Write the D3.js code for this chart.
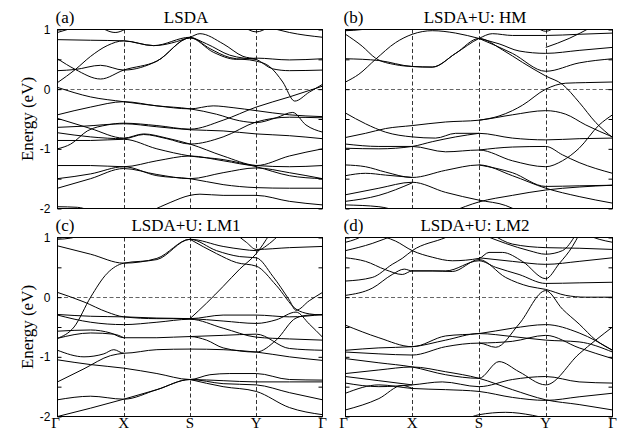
<!DOCTYPE html>
<html>
<head>
<meta charset="utf-8">
<script src="https://cdn.jsdelivr.net/npm/d3@7"></script>
<style>
  body { margin: 0; background: #fff; }
  svg { display: block; }
  .band { fill: none; stroke: #000; stroke-width: 1; }
</style>
</head>
<body>
<script>
/*
	Band structure, four panels
	---------------------------
	Each band is a list of [k, E] nodes, k runs 0..4 along G-X-S-Y-G.
*/
var width = 621;
var height = 437;

var kLabels = ["\u0393", "X", "S", "Y", "\u0393"];
var kPos = [0, 1, 2, 3, 4];
var eTicks = [1, 0.5, 0, -0.5, -1, -1.5, -2];
var eLabels = [1, 0, -1, -2];
var panelLetters = ["(a)", "(b)", "(c)", "(d)"];
var panelTitles = ["LSDA", "LSDA+U: HM", "LSDA+U: LM1", "LSDA+U: LM2"];

var bandsA = [
	[[0,0.95],[0.15,1.0],[0.3,1.06]],
	[[0.62,1.06],[0.87,0.95],[1.1,1.06]],
	[[0,0.83],[0.5,0.82],[1,0.81],[1.45,0.73],[2,0.87],[2.15,0.93],[2.5,0.76],[2.8,0.55],[3,0.5],[3.25,0.34],[3.5,0.31],[4,0.32]],
	[[0,0.11],[0.27,0.33],[0.5,0.55],[0.75,0.73],[1,0.81],[1.45,0.73],[2,0.87],[2.3,0.68],[2.6,0.53],[3,0.47],[3.2,0.38],[3.4,0.12],[3.58,-0.2],[3.8,-0.05],[4,0.08]],
	[[0,0.51],[0.27,0.33],[0.65,0.17],[1,0.32],[1.5,0.47],[2,0.86],[2.35,0.62],[2.7,0.5],[3,0.52],[3.5,0.49],[4,0.51]],
	[[0,0.31],[0.27,0.33],[0.65,0.4],[1,0.32],[1.5,0.47],[2,0.86],[2.25,0.76],[2.6,0.57],[3,0.5]],
	[[2.8,1.05],[3,0.96],[3.2,1.05]],
	[[3.15,1.05],[3.5,0.95],[4,0.87]],
	[[0,0.03],[0.5,-0.13],[1,-0.21],[1.5,-0.28],[2,-0.33],[2.35,-0.28],[2.65,-0.31],[3,-0.36],[3.5,-0.43],[4,-0.46]],
	[[0,-0.43],[0.5,-0.3],[1,-0.21],[1.5,-0.28],[2,-0.33],[2.4,-0.42],[2.75,-0.53],[3,-0.56],[3.3,-0.48],[3.55,-0.39],[3.75,-0.6],[4,-0.72]],
	[[0,-0.49],[0.5,-0.66],[1,-0.82],[1.3,-0.75],[1.65,-0.82],[2,-0.92],[2.5,-1.12],[3,-1.28],[3.5,-1.3],[4,-1.28]],
	[[0,-1.0],[0.2,-0.92],[0.45,-0.7],[0.75,-0.6],[1,-0.57],[1.5,-0.61],[2,-0.67],[2.5,-0.52],[3,-0.3],[3.5,-0.13],[4,0.05]],
	[[0,-0.64],[0.4,-0.62],[1,-0.58],[1.5,-0.63],[2,-0.68],[2.5,-0.7],[3,-0.75],[3.5,-0.78],[4,-0.83]],
	[[0,-0.73],[0.5,-0.8],[1,-0.83],[1.3,-0.76],[1.65,-0.83],[2,-0.92],[2.5,-0.8],[3,-0.55],[3.5,-0.47],[4,-0.48]],
	[[0,-0.86],[0.5,-0.86],[1,-0.84],[1.5,-1.0],[2,-1.12],[2.5,-1.18],[3,-1.3],[3.5,-1.45],[4,-1.5]],
	[[0,-1.28],[0.5,-1.28],[1,-1.3],[1.5,-1.2],[2,-1.12],[2.5,-1.2],[3,-1.28],[3.5,-1.12],[4,-1.0]],
	[[0,-1.5],[0.5,-1.42],[1,-1.3],[1.5,-1.45],[2,-1.5],[2.5,-1.6],[3,-1.65],[3.5,-1.66],[4,-1.66]],
	[[0,-1.66],[0.5,-1.5],[1,-1.33],[1.5,-1.43],[2,-1.5],[2.5,-1.4],[3,-1.32],[3.5,-1.4],[4,-1.5]],
	[[0,-1.97],[0.3,-1.98],[0.5,-2.04]],
	[[1.4,-2.05],[1.7,-1.9],[2,-1.78],[2.15,-1.76],[2.5,-1.78],[3,-1.78],[3.5,-1.88],[4,-1.94]]
];

var bandsB = [
	[[0,0.98],[0.25,1.0],[0.45,1.06]],
	[[0,0.92],[0.25,0.72],[0.45,0.52],[0.75,0.41],[1,0.38],[1.3,0.37],[1.65,0.6],[2,0.85],[2.35,0.66],[2.65,0.45],[3,0.22],[3.25,0.08],[3.5,-0.22],[3.75,-0.56],[4,-0.81]],
	[[0,0.12],[0.2,0.25],[0.45,0.5],[0.75,0.78],[1,0.92],[1.3,0.98],[1.65,0.94],[2,0.85],[2.3,0.76],[2.6,0.64],[3,0.6],[3.5,0.65],[4,0.7]],
	[[0,0.51],[0.5,0.48],[1,0.38],[1.3,0.37],[1.65,0.6],[2,0.85],[2.2,0.93],[2.5,0.9],[3,0.9],[3.5,0.92],[4,0.94]],
	[[2,0.85],[2.5,0.6],[3,0.3],[3.5,0.44],[4,0.51]],
	[[2.85,1.05],[3,0.97],[3.15,1.05]],
	[[3,0.7],[3.35,0.85],[3.7,1.05]],
	[[2,-0.52],[2.3,-0.45],[2.5,-0.36],[2.65,-0.27],[3,0.0],[3.3,0.1],[3.6,0.11],[4,0.12]],
	[[0,-0.4],[0.3,-0.58],[0.6,-0.72],[1,-0.8],[1.35,-0.82],[1.65,-0.74],[2,-0.74],[2.5,-0.82],[3,-0.85],[3.5,-0.83],[4,-0.82]],
	[[0,-0.81],[0.3,-0.74],[0.6,-0.66],[1,-0.61],[1.5,-0.55],[2,-0.52],[2.5,-0.43],[3,-0.36],[3.3,-0.42],[3.6,-0.6],[4,-0.8]],
	[[0,-0.92],[0.5,-0.96],[1,-0.96],[1.5,-1.05],[2,-1.02],[2.5,-1.2],[3,-1.3],[3.25,-1.2],[3.5,-0.99],[3.8,-0.6],[4,-0.43]],
	[[0,-0.99],[0.5,-1.0],[1,-0.96],[1.3,-0.88],[1.65,-0.8],[2,-0.74]],
	[[2,-1.02],[2.5,-0.97],[3,-0.96],[3.25,-1.1],[3.5,-1.23],[4,-1.41]],
	[[0,-1.27],[0.3,-1.3],[0.6,-1.39],[1,-1.48],[1.5,-1.36],[2,-1.27],[2.5,-1.45],[3,-1.66],[3.5,-1.8],[4,-1.91]],
	[[0,-1.45],[0.3,-1.41],[0.6,-1.44],[1,-1.48]],
	[[0,-1.77],[0.5,-1.66],[1,-1.56],[1.5,-1.73],[2,-1.86],[2.4,-1.95],[2.6,-2.05]],
	[[0,-1.88],[0.5,-1.78],[1,-1.57]],
	[[1.6,-2.05],[2,-1.89],[2.5,-1.78],[3,-1.69],[3.5,-1.64],[4,-1.61]],
	[[2,-1.27],[2.5,-1.4],[3,-1.63],[3.5,-1.62],[4,-1.61]],
	[[0,-1.94],[0.5,-1.97],[0.8,-2.05]]
];

var bandsC = [
	[[0,0.97],[0.2,0.99],[0.4,1.06]],
	[[0,0.86],[0.5,0.72],[1,0.57],[1.5,0.65],[2,0.97],[2.5,0.85],[2.8,0.8],[3,0.78],[3.2,0.9],[3.35,1.05]],
	[[2.7,1.05],[2.85,0.92],[3,0.8],[3.5,0.83],[4,0.85]],
	[[0,-0.69],[0.25,-0.5],[0.5,0.0],[0.75,0.4],[1,0.57],[1.5,0.63],[2,0.97],[2.4,0.78],[2.75,0.68],[3,0.66],[3.25,0.35],[3.5,-0.05],[3.6,-0.22],[3.8,-0.06],[4,0.08]],
	[[2,0.97],[2.4,0.73],[2.7,0.58],[3,0.52],[3.3,0.2],[3.6,-0.2],[3.8,-0.28],[4,-0.3]],
	[[2,-0.36],[2.25,-0.1],[2.5,0.18],[2.75,0.47],[3,0.73],[3.2,1.05]],
	[[0,0.08],[0.4,-0.08],[0.75,-0.25],[1,-0.33],[1.5,-0.36],[2,-0.36],[2.5,-0.3],[3,-0.3],[3.5,-0.33],[4,-0.29]],
	[[0,-0.29],[0.5,-0.32],[1,-0.33],[1.5,-0.35],[2,-0.36],[2.5,-0.4],[3,-0.44],[3.3,-0.38],[3.6,-0.25],[3.8,-0.45],[4,-0.67]],
	[[0,-0.3],[0.5,-0.42],[1,-0.46],[1.5,-0.42],[2,-0.37],[2.5,-0.52],[3,-0.67],[3.5,-0.7],[4,-0.72]],
	[[0,-0.57],[0.5,-0.55],[0.8,-0.6],[1,-0.68],[1.5,-0.68],[2,-0.66],[2.25,-0.72],[2.5,-0.85],[3,-0.92],[3.3,-0.72],[3.6,-0.35],[3.8,-0.3],[4,-0.29]],
	[[0,-0.69],[0.5,-0.6],[0.85,-0.62],[1,-0.68]],
	[[0,-0.89],[0.4,-1.0],[0.7,-0.95],[0.85,-0.88],[1,-0.94],[1.5,-0.88],[2,-0.87],[2.5,-0.88],[3,-0.92],[3.5,-1.0],[4,-1.06]],
	[[2,-0.66],[2.5,-0.64],[3,-0.62],[3.5,-0.86],[4,-0.89]],
	[[0,-1.05],[0.5,-1.13],[1,-1.19],[1.5,-1.28],[2,-1.38],[2.3,-1.3],[2.6,-1.28],[3,-1.28],[3.5,-1.38],[4,-1.39]],
	[[0,-1.42],[0.4,-1.2],[0.8,-0.98],[1,-0.94]],
	[[0,-1.72],[0.5,-1.66],[1,-1.71],[1.5,-1.55],[2,-1.38],[2.5,-1.45],[3,-1.47],[3.5,-1.6],[4,-1.72]],
	[[0,-2.0],[0.5,-1.86],[1,-1.71],[1.5,-1.55],[2,-1.38],[2.5,-1.4],[3,-1.42],[3.5,-1.42],[4,-1.42]],
	[[2,-1.38],[2.5,-1.5],[3,-1.58],[3.5,-1.85],[4,-1.97]]
];

var bandsD = [
	[[0,0.92],[0.15,0.97],[0.3,1.05]],
	[[0,0.78],[0.4,0.9],[0.75,1.05]],
	[[0.45,1.05],[0.75,0.94],[1,0.78],[1.3,0.67],[1.6,0.61],[2,0.65],[2.15,0.75],[2.35,0.75],[2.65,0.6],[3,0.31],[3.2,0.56],[3.4,0.85],[3.5,1.05]],
	[[0,0.66],[0.3,0.6],[0.6,0.46],[0.85,0.38],[1,0.44],[1.5,0.44],[2,0.61],[2.25,0.5],[2.6,0.38],[3,0.23],[3.5,0.24],[4,0.25]],
	[[0,0.03],[0.4,0.15],[0.7,0.38],[0.88,0.47],[1,0.44],[1.3,0.44],[1.6,0.43],[2,0.63],[2.4,0.33],[2.75,0.18],[3,0.13],[3.3,0.03],[3.6,0.0],[4,0.0]],
	[[0,0.27],[0.4,0.33],[0.7,0.55],[0.85,0.65],[1,0.78],[1.5,1.0],[1.6,1.05]],
	[[2.05,1.05],[2.4,0.9],[2.75,0.78],[3,0.72],[3.25,0.78],[3.45,1.05]],
	[[2.2,1.05],[2.5,0.89],[3,0.83],[3.5,0.82],[4,0.8]],
	[[2,0.66],[2.5,0.6],[3,0.55],[3.5,0.6],[4,0.66]],
	[[3.6,1.05],[3.8,0.97],[4,0.92]],
	[[0,-0.47],[0.5,-0.68],[1,-0.83],[1.5,-0.65],[2,-0.61],[2.5,-0.52],[3,-0.46],[3.5,-0.6],[4,-0.89]],
	[[0,-0.89],[0.5,-0.85],[1,-0.83],[1.5,-0.72],[2,-0.61],[2.5,-0.66],[3,-0.72],[3.5,-0.75],[4,-0.92]],
	[[0,-0.92],[0.5,-0.95],[1,-0.97],[1.5,-0.83],[2,-0.77],[2.25,-0.84],[2.6,-0.45],[3,0.11],[3.25,-0.2],[3.5,-0.45],[3.75,-0.72],[4,-0.89]],
	[[2,-0.77],[2.5,-0.74],[3,-0.64],[3.5,-0.85],[4,-1.03]],
	[[0,-1.03],[0.5,-1.1],[1,-1.17],[1.5,-1.3],[2,-1.36],[2.3,-1.08],[2.6,-1.25],[3,-1.47],[3.5,-0.95],[4,-0.5]],
	[[0,-1.28],[0.5,-1.22],[1,-1.17],[1.5,-1.25],[2,-1.36],[2.5,-1.55],[3,-1.72],[3.5,-1.8],[4,-1.89]],
	[[0,-1.44],[0.5,-1.5],[1,-1.47],[1.45,-1.42],[2,-1.5],[2.5,-1.38],[3,-1.33],[3.5,-1.42],[4,-1.44]],
	[[0,-1.61],[0.5,-1.47],[1,-1.53],[1.5,-1.55],[2,-1.58],[2.5,-1.68],[3,-1.73],[3.5,-1.67],[4,-1.61]],
	[[0,-1.89],[0.5,-1.7],[0.85,-1.48],[1,-1.53]],
	[[0,-1.33],[0.5,-1.4],[1,-1.47]],
	[[1.8,-2.05],[2,-1.97],[2.4,-1.93],[2.8,-1.98],[3,-2.03]]
];

var allBands = [bandsA, bandsB, bandsC, bandsD];

// frames of the four panels (pixels)
var boxes = [
	{ left: 57.5, right: 322.5, top: 29.5, bottom: 208.5 },
	{ left: 345.5, right: 612.5, top: 29.5, bottom: 208.5 },
	{ left: 57.5, right: 322.5, top: 237.5, bottom: 416.5 },
	{ left: 345.5, right: 612.5, top: 237.5, bottom: 416.5 }
];

var serif = "'Liberation Serif', 'Times New Roman', serif";
var sans = "'Liberation Sans', Arial, sans-serif";

var svg = d3.select("body")
	.append("svg")
	.attr("width", width)
	.attr("height", height);

allBands.forEach(function (bands, i) {
	var b = boxes[i];
	var xScale = d3.scaleLinear().domain([0, 4]).range([b.left, b.right]);
	var yScale = d3.scaleLinear().domain([-2, 1]).range([b.bottom, b.top]);
	var g = svg.append("g");

	svg.append("clipPath")
		.attr("id", "clip" + i)
		.append("rect")
		.attr("x", b.left)
		.attr("y", b.top)
		.attr("width", b.right - b.left)
		.attr("height", b.bottom - b.top);

	// dashed high-symmetry lines
	g.selectAll(".kline")
		.data(kPos.slice(1, 4))
		.enter()
		.append("line")
		.attr("x1", function (d) { return Math.round(xScale(d)) + 0.5; })
		.attr("x2", function (d) { return Math.round(xScale(d)) + 0.5; })
		.attr("y1", b.top)
		.attr("y2", b.bottom)
		.attr("stroke", "#333")
		.attr("stroke-dasharray", "4,2.5");

	// Fermi level
	g.append("line")
		.attr("x1", b.left)
		.attr("x2", b.right)
		.attr("y1", Math.round(yScale(0)) + 0.5)
		.attr("y2", Math.round(yScale(0)) + 0.5)
		.attr("stroke", "#666")
		.attr("stroke-width", 1.2)
		.attr("stroke-dasharray", "4,2.5");

	var line = d3.line()
		.x(function (d) { return xScale(d[0]); })
		.y(function (d) { return yScale(d[1]); })
		.curve(d3.curveMonotoneX);

	g.append("g")
		.attr("clip-path", "url(#clip" + i + ")")
		.selectAll("path")
		.data(bands)
		.enter()
		.append("path")
		.attr("class", "band")
		.attr("d", line);

	// y axis, ticks inward, labels only on left panels
	var showLabels = (i % 2 === 0);
	var gY = g.append("g")
		.attr("transform", "translate(" + b.left + ",0)")
		.call(d3.axisLeft(yScale)
			.tickValues(eTicks)
			.tickSize(-4)
			.tickPadding(7)
			.tickFormat(function (d) {
				return (showLabels && eLabels.indexOf(d) >= 0) ? String(d) : "";
			}));
	gY.select(".domain").remove();
	gY.selectAll("text").attr("font-family", sans).attr("font-size", "12px").attr("fill", "#000");

	var gY2 = g.append("g")
		.attr("transform", "translate(" + b.right + ",0)")
		.call(d3.axisRight(yScale).tickValues(eTicks).tickSize(-4).tickFormat(""));
	gY2.select(".domain").remove();

	// frame
	g.append("rect")
		.attr("x", b.left)
		.attr("y", b.top)
		.attr("width", b.right - b.left)
		.attr("height", b.bottom - b.top)
		.attr("fill", "none")
		.attr("stroke", "#000");

	// panel letter and title
	g.append("text")
		.attr("x", b.left - 2)
		.attr("y", b.top - 7)
		.text(panelLetters[i])
		.attr("font-family", serif)
		.attr("font-size", "17px");

	g.append("text")
		.attr("text-anchor", "middle")
		.attr("x", (b.left + b.right) / 2 - 4)
		.attr("y", b.top - 7)
		.text(panelTitles[i])
		.attr("font-family", serif)
		.attr("font-size", "17px");

	if (showLabels) {
		g.append("text")
			.attr("text-anchor", "middle")
			.attr("transform", "rotate(-90)")
			.attr("x", -(b.top + b.bottom) / 2)
			.attr("y", 33)
			.text("Energy (eV)")
			.attr("font-family", serif)
			.attr("font-size", "17px");
	}

	// k-point labels under the bottom row
	if (i >= 2) {
		g.selectAll(".klabel")
			.data(kPos)
			.enter()
			.append("text")
			.attr("text-anchor", "middle")
			.attr("x", function (d) { return xScale(d) - (d === 0 ? 2 : 0); })
			.attr("y", 428)
			.text(function (d, j) { return kLabels[j]; })
			.attr("font-family", serif)
			.attr("font-size", "15px");
	}
});
</script>
</body>
</html>
